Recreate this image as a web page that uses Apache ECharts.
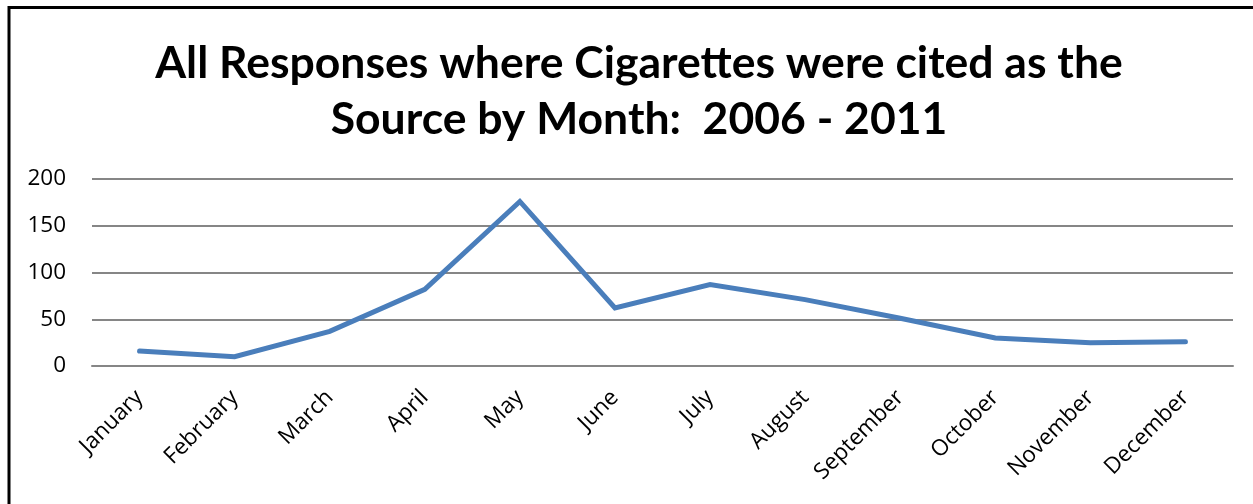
<!DOCTYPE html>
<html><head><meta charset="utf-8">
<script src="https://cdn.jsdelivr.net/npm/echarts@6/dist/echarts.min.js"></script>
<style>html,body{margin:0;padding:0;background:#fff}#c{width:1253px;height:504px}</style>
</head><body><div id="c"></div>
<script>
const titleText = 'All Responses where Cigarettes were cited as the\nSource by Month:  2006 - 2011';
const months = ['January','February','March','April','May','June','July','August','September','October','November','December'];
const responses = [16, 10, 37, 82, 176, 62, 87, 71, 51, 30, 25, 26];
const yTicks = {min: 0, max: 200, interval: 50};

const chart = echarts.init(document.getElementById('c'), null, {renderer: 'canvas'});
chart.setOption({
  animation: false,
  backgroundColor: '#fff',
  title: {
    text: titleText,
    left: 634, top: 31, textAlign: 'center',
    textStyle: {fontFamily: 'Lato', fontWeight: 'bold', fontSize: 44.5, lineHeight: 56, color: '#000'}
  },
  graphic: [{
    type: 'polyline',
    shape: {points: [[9, 504], [9, 7.5], [1253, 7.5]]},
    style: {stroke: '#000', lineWidth: 3, fill: null}
  }],
  grid: {left: 92, right: 20, top: 179, bottom: 138},
  xAxis: {
    type: 'category', data: months, boundaryGap: true,
    axisLine: {lineStyle: {color: '#868686', width: 2}},
    axisTick: {show: false},
    axisLabel: {rotate: 45, interval: 0, margin: 28, fontFamily: 'Open Sans', fontSize: 22.5, color: '#000'}
  },
  yAxis: {
    type: 'value', min: yTicks.min, max: yTicks.max, interval: yTicks.interval,
    axisLine: {show: false}, axisTick: {show: false},
    splitLine: {lineStyle: {color: '#868686', width: 2}},
    axisLabel: {margin: 26, fontFamily: 'Open Sans', fontSize: 22.5, color: '#000'}
  },
  series: [{
    type: 'line', data: responses, symbol: 'none',
    lineStyle: {color: '#4a7ebb', width: 5, cap: 'round', join: 'miter'}
  }]
});
</script></body></html>
